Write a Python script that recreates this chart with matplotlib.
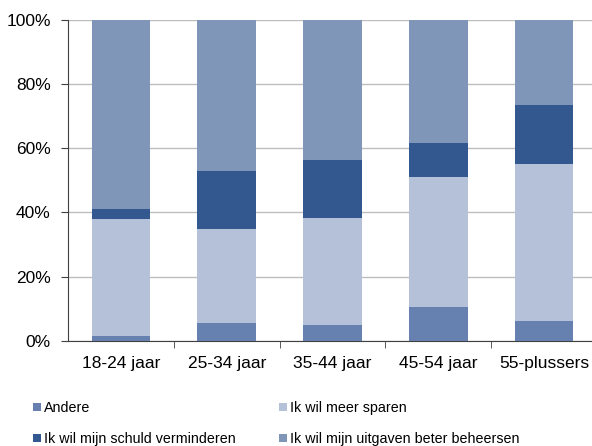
import matplotlib.pyplot as plt
import numpy as np

plt.rcParams['font.family'] = ['Liberation Sans', 'DejaVu Sans']

leeftijden = ["18-24 jaar", "25-34 jaar", "35-44 jaar", "45-54 jaar", "55-plussers"]
andere = [1.6, 5.6, 4.8, 10.4, 6.2]
sparen = [36.3, 29.1, 33.5, 40.6, 48.8]
schuld = [3.2, 18.3, 18.1, 10.7, 18.5]
uitgaven = [58.9, 47.0, 43.6, 38.3, 26.5]

kleuren = {
    "andere": "#6680B0",
    "sparen": "#B4C1D8",
    "schuld": "#33588F",
    "uitgaven": "#8096B8",
}

fig = plt.figure(figsize=(5.92, 4.46), dpi=100)
ax = fig.add_axes([68 / 592, 105.3 / 446, 529 / 592, 320.7 / 446])

x = np.arange(len(leeftijden))
b = 0.555
bodem = np.zeros(len(leeftijden))
handles = {}
for naam, waarden in [("andere", andere), ("sparen", sparen), ("schuld", schuld), ("uitgaven", uitgaven)]:
    handles[naam] = ax.bar(x, waarden, b, bottom=bodem, color=kleuren[naam], zorder=3)
    bodem = bodem + np.array(waarden)

ax.set_xlim(-0.5, len(leeftijden) - 0.5)
ax.set_ylim(0, 100)
ax.set_yticks(range(0, 101, 20))
ax.set_yticklabels([f"{v}%" for v in range(0, 101, 20)], fontsize=12.5)
ax.yaxis.grid(True, color="#bdbdbd", linewidth=1, zorder=0)

ax.set_xticks(x)
ax.set_xticklabels(leeftijden, fontsize=12.5)
ax.set_xticks(np.arange(0.5, len(leeftijden) - 0.5), minor=True)
ax.tick_params(axis="x", which="major", length=0, pad=11)
ax.tick_params(axis="x", which="minor", length=5, color="#404040")
ax.tick_params(axis="y", length=5, color="#404040", pad=7.5)

for s in ["top", "right"]:
    ax.spines[s].set_visible(False)
for s in ["left", "bottom"]:
    ax.spines[s].set_color("#404040")

fig.legend(
    [handles["andere"], handles["schuld"], handles["sparen"], handles["uitgaven"]],
    ["Andere", "Ik wil mijn schuld verminderen", "Ik wil meer sparen", "Ik wil mijn uitgaven beter beheersen"],
    loc="upper left", bbox_to_anchor=(20 / 592, 1 - 388 / 446), ncol=2, frameon=False,
    fontsize=10.3, handlelength=0.55, handleheight=0.55, handletextpad=0.25,
    columnspacing=3.0, labelspacing=1.2,
)

fig.savefig("out.png", dpi=100)
